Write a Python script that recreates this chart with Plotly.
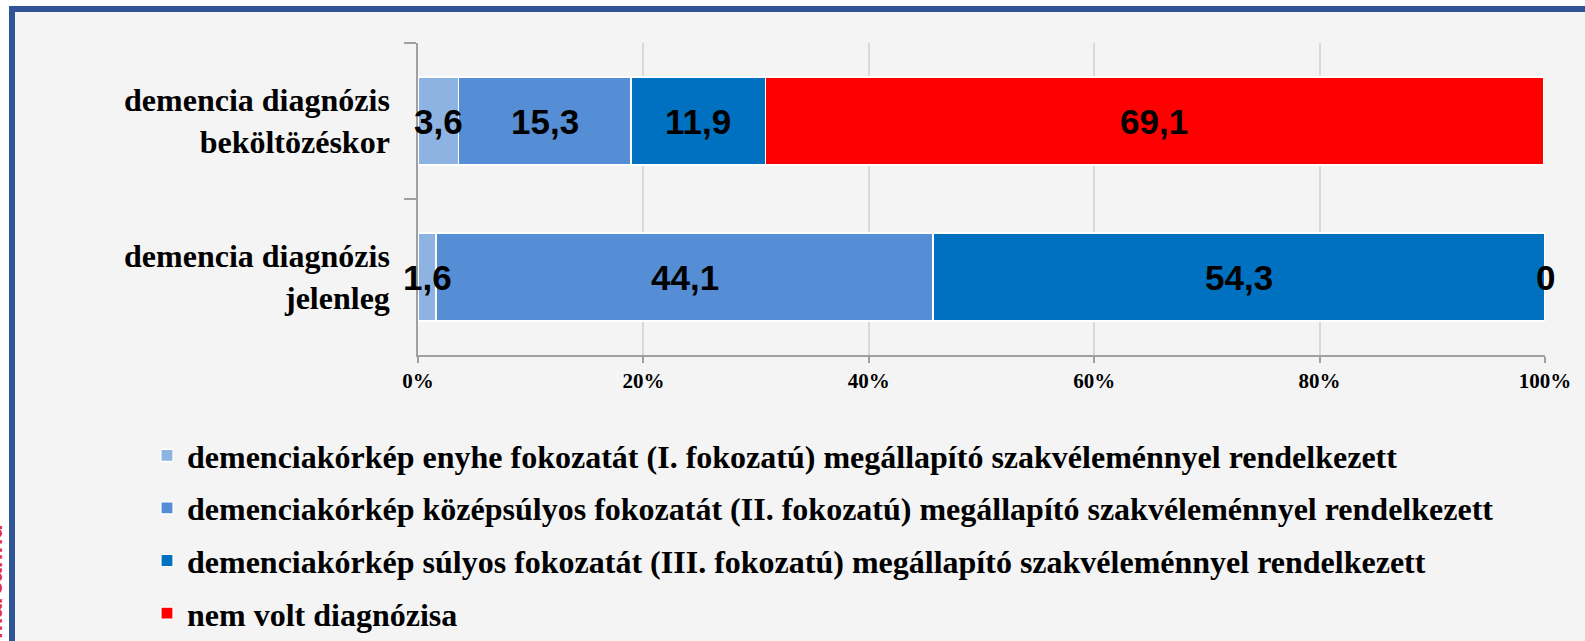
import plotly.graph_objects as go

categories = ["demencia diagnózis<br>beköltözéskor", "demencia diagnózis<br>jelenleg"]
series_names = [
    "demenciakórkép enyhe fokozatát (I. fokozatú) megállapító szakvéleménnyel rendelkezett",
    "demenciakórkép középsúlyos fokozatát (II. fokozatú) megállapító szakvéleménnyel rendelkezett",
    "demenciakórkép súlyos fokozatát (III. fokozatú) megállapító szakvéleménnyel rendelkezett",
    "nem volt diagnózisa",
]
enyhe = [3.6, 1.6]
kozepsulyos = [15.3, 44.1]
sulyos = [11.9, 54.3]
nem_volt = [69.1, 0]
series_values = [enyhe, kozepsulyos, sulyos, nem_volt]
colors = ["#8DB3E2", "#558ED5", "#0070C0", "#FF0000"]
x_tickvals = [0, 20, 40, 60, 80, 100]
x_ticktext = ["0%", "20%", "40%", "60%", "80%", "100%"]

W, H = 1585, 641
L, R, T, B = 418, 40, 43, 286
PW, PH = W - L - R, H - T - B


def px_x(p):
    return (p - L) / PW


def px_y(p):
    return (H - B - p) / PH


fig = go.Figure()
for i, (name, vals, col) in enumerate(zip(series_names, series_values, colors)):
    fig.add_trace(go.Bar(
        y=categories, x=vals, name=name, orientation="h",
        marker=dict(color=col, line=dict(color="white", width=1.2)),
        legendgroup=f"g{i}", hoverinfo="x+y",
    ))

# data labels
annotations = []
for ci, cat in enumerate(categories):
    cum = 0
    for vals in series_values:
        v = vals[ci]
        annotations.append(dict(
            x=cum + v / 2, y=cat, xref="x", yref="y", showarrow=False,
            text=f"{v:g}".replace(".", ","),
            font=dict(family="Liberation Sans Narrow, Arial Narrow, Liberation Sans",
                      size=35, color="black", weight="bold"),
        ))
        cum += v

# watermark
annotations.append(dict(
    x=px_x(9), y=px_y(522), xref="paper", yref="paper", xanchor="right", yanchor="top",
    text="marcar.hu", textangle=-90, showarrow=False,
    font=dict(family="Liberation Sans", size=24, color="#E8303A", weight="bold"),
))

fig.update_layout(
    width=W, height=H,
    margin=dict(l=L, r=R, t=T, b=B, autoexpand=False),
    paper_bgcolor="white", plot_bgcolor="rgba(0,0,0,0)",
    barmode="stack", bargap=0.435,
    showlegend=True,
    legend=dict(
        x=px_x(147), y=px_y(428), xanchor="left", yanchor="top",
        orientation="v", traceorder="grouped", tracegroupgap=8,
        font=dict(family="Liberation Serif", size=32, color="black", weight="bold"),
        bgcolor="rgba(0,0,0,0)", itemwidth=30,
    ),
    annotations=annotations,
    shapes=[dict(
        type="rect", xref="paper", yref="paper", layer="below",
        x0=px_x(12), x1=px_x(1620), y0=px_y(700), y1=px_y(9),
        line=dict(color="#2F5597", width=6), fillcolor="#F4F4F4",
    )],
)
fig.update_xaxes(
    range=[0, 100], tickvals=x_tickvals, ticktext=x_ticktext,
    showgrid=True, gridcolor="#D9D9D9", gridwidth=1.5,
    showline=True, linecolor="#A0A0A0", linewidth=1.5,
    ticks="outside", ticklen=6, tickcolor="#A0A0A0", tickwidth=1.5,
    tickfont=dict(family="Liberation Serif", size=21, color="black", weight="bold"),
    zeroline=False,
)
fig.update_yaxes(
    autorange="reversed", categoryorder="array", categoryarray=categories,
    showgrid=False, showline=True, linecolor="#A0A0A0", linewidth=1.5,
    ticks="outside", ticklen=12, tickcolor="#A0A0A0", tickwidth=1.5, tickson="boundaries",
    tickfont=dict(family="Liberation Serif", size=32, color="black", weight="bold"),
    ticklabelstandoff=20,
)

fig.write_html("out.html", config={"displayModeBar": False},
               post_script="document.body.style.margin='0px';")
